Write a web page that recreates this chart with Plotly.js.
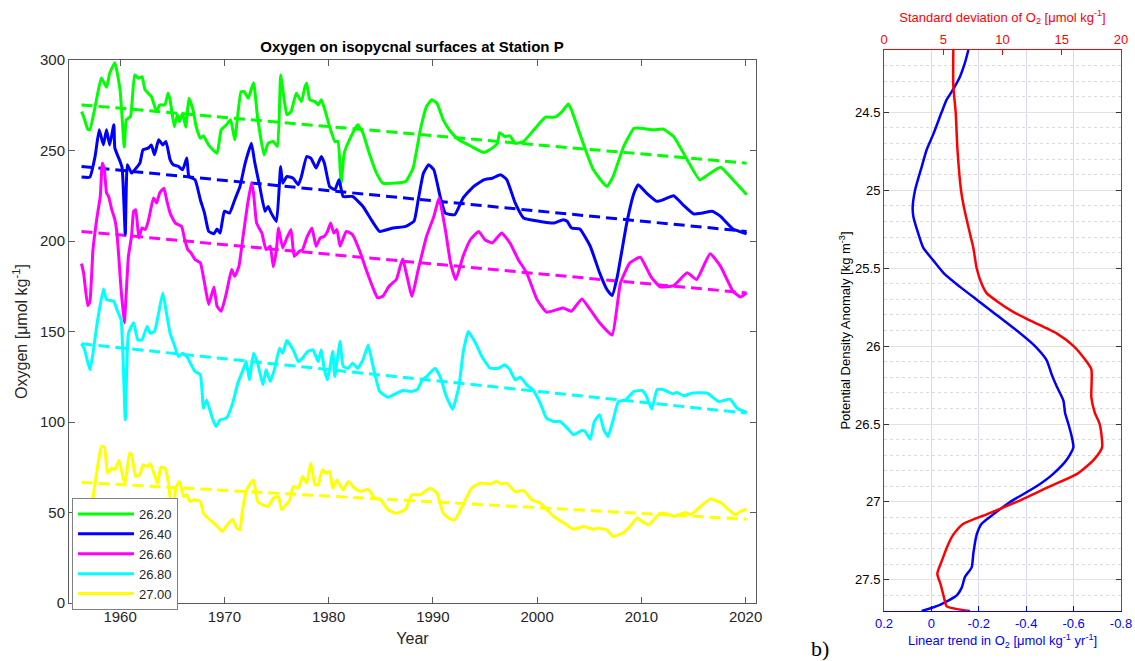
<!DOCTYPE html>
<html>
<head>
<meta charset="utf-8">
<script src="https://cdn.plot.ly/plotly-3.0.1.min.js"></script>
<style>
  html, body { margin: 0; padding: 0; background: #fff; }
  #chart { width: 1135px; height: 661px; }
</style>
</head>
<body>
<div id="chart"></div>
<script>
"use strict";

// --- Panel a: oxygen on isopycnal surfaces ---
const surfaceNames = ['26.20', '26.40', '26.60', '26.80', '27.00'];
const surfaceColors = ['#00ff00', '#0000ff', '#ff00ff', '#00ffff', '#ffff00'];

const yearsG = [1956.3,1956.5,1956.9,1957.1,1957.6,1958.2,1958.7,1959.0,1959.5,1960.0,
  1960.4,1960.6,1961.0,1961.4,1961.8,1962.1,1962.4,1963.0,1963.5,1963.8,
  1964.3,1964.6,1964.8,1965.2,1965.5,1965.7,1966.0,1966.3,1966.6,1967.0,
  1967.3,1967.7,1968.0,1968.5,1969.3,1969.7,1970.2,1970.6,1971.0,1971.6,
  1971.9,1972.3,1972.8,1973.2,1973.8,1974.2,1974.7,1975.1,1975.4,1975.7,
  1976.0,1976.4,1976.9,1977.4,1977.7,1977.9,1978.2,1978.7,1979.0,1979.3,
  1979.6,1980.1,1980.6,1980.9,1981.2,1981.5,1982.0,1982.8,1983.3,1983.9,
  1984.6,1985.2,1986.5,1987.4,1988.1,1988.8,1989.4,1989.9,1990.4,1991.0,
  1991.7,1992.5,1993.7,1994.9,1995.7,1996.2,1996.4,1996.9,1997.4,1997.9,
  1998.7,1999.7,2000.8,2001.7,2002.4,2003.0,2003.3,2004.3,2005.4,2006.7,
  2007.3,2008.3,2009.3,2010.0,2011.2,2012.1,2013.1,2014.4,2015.6,2016.4,
  2017.6,2018.8,2020.1];
const oxyG = [271.5,268.8,261.8,261.4,274,290,285,292.6,298.5,283.5,
  252,267,268.8,291.7,289.9,290.8,283.5,279.8,271.5,275.2,
  275.2,281.6,278,263.2,269.7,266,270.6,262.9,278.9,272.4,
  263.2,256.8,258,253,248.5,261.4,264.2,267,255.9,282.5,
  282.5,278.9,287.5,267.8,247.6,254,255,252.2,291.7,279.8,
  269.7,271.5,281.6,277,284.4,287.1,278,277,275.2,278,
  273.3,263.2,255,255,232,248.5,255.9,264.2,259.6,248.5,
  237.5,232,232,232.9,240,261.4,274.3,278,276.1,266.9,
  260.5,255.9,252.2,248.9,251.3,254,259.9,257.7,258.1,254,
  255,261.4,268.4,268.4,271.5,275.7,272.4,255.9,239.3,230.1,
  235.7,252.2,262.3,262.3,261.4,261.8,257.7,244.9,233.8,236.6,
  240.8,233.8,225.6];

const yearsB = [1956.3,1957.1,1957.6,1958.0,1958.4,1958.7,1959.0,1959.4,1959.5,1960.0,
  1960.2,1960.5,1960.7,1961.1,1961.4,1961.9,1962.2,1962.7,1963.0,1963.3,
  1963.7,1964.1,1964.4,1964.8,1965.1,1965.6,1966.0,1966.4,1966.6,1967.2,
  1967.7,1968.1,1968.5,1969.0,1969.3,1969.6,1970.0,1970.5,1971.0,1971.5,
  1972.0,1972.6,1972.9,1973.4,1973.9,1974.2,1974.5,1975.0,1975.4,1975.6,
  1976.0,1976.6,1977.1,1977.4,1977.9,1978.3,1978.8,1979.3,1979.6,1980.1,
  1980.6,1981.0,1981.4,1982.3,1983.3,1984.2,1984.9,1986.2,1987.4,1988.2,
  1988.6,1989.1,1989.6,1990.1,1990.7,1991.2,1992.1,1992.9,1993.9,1994.9,
  1995.7,1996.5,1997.1,1997.9,1998.7,2000.3,2001.6,2002.5,2002.9,2003.3,
  2004.1,2005.1,2006.0,2006.7,2007.2,2007.7,2008.6,2009.3,2009.7,2010.5,
  2011.5,2012.1,2013.1,2014.0,2015.0,2015.8,2016.8,2017.6,2018.8,2020.1];
const oxyB = [235.3,235.3,246.7,261.4,253.1,261.4,253.1,264.2,251.3,243.9,
  240.3,203.5,242.1,237.5,239.3,243,250.4,251.3,253.1,247.6,
  255.9,253.1,255,244.9,242.1,241.2,239.3,245.8,235.7,233.8,
  222.8,215.4,205.3,204,206.6,204.4,216.4,215.4,222.8,230.1,
  243,254,243.9,230.1,216.4,219.1,215.4,210.8,241.2,232,
  235.7,234.7,231.1,235.7,246.7,245.8,240.3,246.7,243,230.1,
  228.3,233.8,224.6,224.6,219.1,210.8,205.3,207.2,208.1,211,
  222.8,237.5,242.1,239.3,224.6,215.4,214.5,223.7,230.1,233.8,
  234.7,236.6,233.8,221,212.7,210.8,209.9,211.8,210.8,207.2,
  206.6,197.1,182.4,173.2,169.9,180.5,209.9,226.5,231.1,226.5,
  221.9,222.8,225,220,215,215.4,216.4,213.6,206.6,204];

const yearsM = [1956.3,1956.5,1956.9,1957.1,1957.4,1957.8,1958.1,1958.3,1958.5,1958.7,
  1958.9,1959.2,1959.5,1959.7,1960.1,1960.4,1960.8,1961.1,1961.3,1961.5,
  1961.8,1962.1,1962.4,1962.7,1963.2,1963.5,1963.8,1964.2,1964.5,1964.8,
  1965.3,1965.9,1966.2,1966.5,1966.8,1967.2,1967.7,1968.1,1968.5,1969.0,
  1969.3,1969.7,1970.2,1970.7,1971.0,1971.4,1971.8,1972.2,1972.6,1972.8,
  1973.1,1973.6,1974.0,1974.4,1974.7,1975.0,1975.2,1975.6,1976.0,1976.4,
  1976.7,1977.2,1977.5,1977.9,1978.4,1978.8,1979.2,1979.6,1979.9,1980.2,
  1980.5,1980.8,1981.1,1981.7,1982.3,1983.0,1983.6,1984.2,1984.7,1985.2,
  1985.8,1986.5,1987.1,1988.0,1988.6,1989.4,1990.1,1990.6,1991.2,1991.7,
  1992.2,1992.9,1993.6,1994.4,1995.0,1995.7,1996.6,1997.4,1998.2,1999.0,
  2000.0,2000.9,2001.9,2002.5,2003.3,2004.3,2005.1,2006.0,2007.2,2008.0,
  2008.9,2009.9,2010.9,2011.8,2013.1,2014.4,2015.3,2016.6,2017.6,2018.8,
  2019.5,2020.1];
const oxyM = [187.5,182.4,164.3,166.2,195.2,213.6,224.6,243,239.3,226.5,
  224.6,217.3,211.8,204.4,173.2,154.8,191.5,202.6,216.4,217.3,
  201.7,207.2,206.3,210.8,223.7,221,226.5,229.2,221.9,215.4,
  209.9,208.1,200.7,195.2,193.4,189.7,187.9,176.8,164.9,174.6,
  164,161.2,171.3,184.2,180.5,186,202.6,219.1,232,226.5,
  209.9,204.4,195.2,197.1,185.7,195.2,207.2,196.1,201.7,206.3,
  191.5,194.3,195.2,201.7,207.2,197.1,201.7,202.6,205.3,209.9,
  204.4,206.3,197.1,205.3,203.5,194.3,184.2,175,168.6,169.5,
  175,178.7,190,169.5,184.2,202.6,213.6,223.7,206.3,187.9,
  178.7,191.5,200.7,205.3,200.7,198.9,204.4,198.9,189.7,182.4,
  167.6,160.7,162.1,163,161.2,168,162.1,154.8,148,176.8,
  187.9,191,180.5,174.6,175.4,182.4,178.7,193,186,172.2,
  169.1,171.3];

const yearsC = [1956.3,1956.6,1957.1,1957.4,1957.8,1958.4,1958.7,1959.4,1959.7,1960.1,
  1960.5,1960.8,1961.3,1961.7,1962.1,1962.6,1962.9,1963.3,1963.7,1964.1,
  1964.5,1964.8,1965.2,1965.6,1966.0,1966.4,1966.9,1967.2,1967.7,1968.0,
  1968.3,1968.8,1969.2,1969.6,1970.2,1970.8,1971.3,1971.8,1972.1,1972.4,
  1972.8,1973.2,1973.7,1974.0,1974.4,1974.8,1975.3,1975.6,1976.0,1976.6,
  1977.1,1977.5,1978.0,1978.5,1979.0,1979.3,1979.6,1979.9,1980.4,1980.6,
  1981.1,1981.4,1981.9,1982.3,1982.8,1983.3,1983.8,1984.2,1984.9,1985.7,
  1987.1,1987.9,1988.5,1989.0,1989.4,1990.2,1990.7,1991.3,1991.9,1992.5,
  1992.9,1993.4,1994.1,1994.7,1995.5,1996.3,1996.9,1997.4,1997.9,1998.4,
  1999.0,1999.6,2000.3,2000.9,2001.6,2002.2,2002.9,2003.5,2004.3,2004.6,
  2005.1,2005.5,2006.0,2006.4,2006.8,2007.3,2007.8,2008.5,2009.3,2010.1,
  2010.5,2011.0,2011.5,2012.0,2013.0,2013.4,2014.1,2014.9,2016.3,2017.4,
  2018.5,2019.2,2020.1];
const oxyC = [143.2,139.9,128.8,138,154.6,173.5,167.6,166.7,162,156.4,
  101.2,149,154.8,145.4,145.4,152.8,149,150,160.3,171.3,
  158.5,149,142.6,136.2,138,136.2,130.7,127.9,126.1,107.6,
  112.2,103,97.5,101.2,102.1,110.4,121.5,128.8,133.4,123.3,
  138,132.5,120.5,128.8,122.4,128.8,140.8,138,145,139.9,
  133.4,135.3,138.9,139.9,133.4,139.9,128.8,123.3,138.9,125.1,
  144.5,130.7,129.7,132.5,129.7,134.3,142.6,132.5,116.9,113.7,
  117.4,116.9,117.8,123.3,125.1,129.7,125.1,114.1,107.1,119.6,
  138,150,143.6,136.2,129.7,129.7,131.6,128.8,123.3,124.8,
  120.5,117.8,110.4,102.1,100.3,100.3,96.6,92.9,95.3,94.8,
  90.5,100.3,104,95.7,92,101.2,111.3,112.2,116.9,117.4,
  114.1,107.1,117.8,118.1,115.6,116.3,114.5,116,116,111.3,
  112.6,107.6,105.2];

const yearsY = [1956.3,1956.8,1957.3,1957.6,1957.9,1958.2,1958.5,1958.8,1959.2,1959.5,
  1959.9,1960.3,1960.5,1960.9,1961.1,1961.5,1961.9,1962.2,1962.6,1962.9,
  1963.3,1963.6,1963.9,1964.3,1964.6,1965.0,1965.4,1965.7,1966.1,1966.4,
  1966.7,1967.1,1967.7,1968.0,1968.6,1969.2,1969.8,1970.2,1970.8,1971.2,
  1971.5,1971.7,1972.1,1972.4,1972.8,1973.2,1973.7,1974.2,1974.7,1975.2,
  1975.5,1975.9,1976.3,1976.6,1977.1,1977.5,1977.9,1978.3,1978.7,1979.0,
  1979.4,1979.8,1980.1,1980.4,1980.8,1981.4,1981.9,1982.5,1983.1,1983.8,
  1984.4,1985.0,1985.7,1986.5,1987.4,1988.0,1988.8,1989.7,1990.4,1991.0,
  1991.7,1992.1,1992.9,1993.7,1994.5,1995.5,1996.1,1996.6,1997.1,1997.9,
  1998.7,1999.5,2000.3,2001.6,2002.7,2003.5,2004.5,2005.3,2005.9,2006.7,
  2007.3,2008.3,2008.9,2009.6,2010.1,2010.7,2011.8,2012.4,2013.2,2014.2,
  2014.7,2015.5,2016.6,2017.6,2018.4,2019.0,2019.5,2020.1];
const oxyY = [44,46,54.2,66.2,77.3,86.5,86.1,71.7,74.5,73.6,
  78.7,69,66.2,82.8,81.9,69.9,70.8,76.3,75.4,76.9,
  70.8,66.2,75,74.5,68,50,64.4,67.1,58.8,59.8,
  56.1,57,56.1,49.6,46,43.2,39.5,42.6,46.3,41.3,
  40.4,49.6,61.6,65.3,68,56.1,54.2,53.3,57.9,58.8,
  51.5,54.2,57,64.4,63.4,69.9,66.2,77.3,65.3,65.3,
  73.6,71.7,72.7,63.4,68,62.5,67.1,63.4,61.6,62.9,
  57.9,57,51.5,49.6,51.8,59.8,59.8,63.4,60.7,49.6,
  46.3,46,54.2,63.4,66.2,65.8,67.1,65.8,66.2,61.6,
  62.2,57,55.2,47.8,43.7,40.8,42.3,40.8,41.3,40.4,
  36.7,39,42.3,46.9,45,43.2,49.6,49.3,47.8,50,
  48.7,52.4,57.4,55.5,51.5,48.7,50.6,51.8];

// linear trend lines: [start, end] for each surface
const trendYears = [1956.3, 2020.1];
const trendG = [275.2, 243.0];
const trendB = [241.2, 205.3];
const trendM = [205.3, 171.3];
const trendC = [143.2, 104.9];
const trendY = [66.6, 46.3];

// --- Panel b: profiles versus potential density anomaly ---
const sigmaStd = [24.1,24.33,24.5,24.74,25.0,25.11,25.28,25.37,25.5,25.6,25.66,25.71,25.78,25.835,
  25.92,26.0,26.09,26.15,26.33,26.43,26.5,26.65,26.73,26.82,26.9,27.0,27.08,27.14,27.21,
  27.27,27.38,27.46,27.53,27.64,27.67,27.7];
const stdO2 = [5.85,5.85,6.05,6.2,6.5,6.75,7.26,7.54,7.82,8.24,8.66,9.5,10.9,12.3,
  14.6,16,17,17.5,17.5,17.8,18.2,18.4,17.7,16.3,14,11.2,8.66,6.7,5.85,
  5.43,4.87,4.5,4.78,5.15,5.29,7.26];

const sigmaTrend = [24.1,24.18,24.27,24.35,24.42,24.5,24.64,24.74,24.85,25.0,25.11,25.17,25.28,25.37,
  25.45,25.54,25.62,25.71,25.8,25.9,26.0,26.09,26.18,26.26,26.35,26.43,26.5,26.58,26.65,
  26.73,26.82,26.9,27.0,27.08,27.14,27.21,27.33,27.42,27.48,27.55,27.6,27.66,27.7];
const trendO2 = [-0.156,-0.142,-0.121,-0.093,-0.064,-0.043,-0.008,0.02,0.041,0.069,0.079,0.076,0.055,0.034,
  -0.008,-0.057,-0.121,-0.198,-0.275,-0.36,-0.437,-0.486,-0.507,-0.529,-0.557,-0.564,-0.578,-0.592,-0.599,
  -0.571,-0.514,-0.444,-0.332,-0.261,-0.212,-0.191,-0.177,-0.17,-0.142,-0.128,-0.107,-0.036,0.041];

const trendTickVals = [0.2, 0, -0.2, -0.4, -0.6, -0.8];
const trendTickText = ['0.2', '0', '-0.2', '-0.4', '-0.6', '-0.8'];
const sigmaTickVals = [24.5, 25, 25.5, 26, 26.5, 27, 27.5];

const seriesX = [yearsG, yearsB, yearsM, yearsC, yearsY];
const seriesY = [oxyG, oxyB, oxyM, oxyC, oxyY];
const trendsY = [trendG, trendB, trendM, trendC, trendY];

const FONT = 'Liberation Sans, Arial, sans-serif';
const axisGray = '#5a5a5a';
const textDark = '#262626';

const traces = [];

// dashed trend lines first so the data sit on top
trendsY.forEach((tr, i) => {
    traces.push({
        x: trendYears, y: tr, type: 'scatter', mode: 'lines',
        xaxis: 'x', yaxis: 'y', showlegend: false, hoverinfo: 'skip',
        line: { color: surfaceColors[i], width: 3, dash: '11px,6px' }
    });
});

seriesX.forEach((xs, i) => {
    traces.push({
        x: xs, y: seriesY[i], type: 'scatter', mode: 'lines',
        xaxis: 'x', yaxis: 'y', name: surfaceNames[i],
        line: { color: surfaceColors[i], width: 3, shape: 'spline', smoothing: 0.4 }
    });
});

traces.push({
    x: trendO2, y: sigmaTrend, type: 'scatter', mode: 'lines',
    xaxis: 'x2', yaxis: 'y2', showlegend: false,
    line: { color: '#0000ff', width: 2.5, shape: 'spline', smoothing: 0.6 }
});
traces.push({
    x: stdO2, y: sigmaStd, type: 'scatter', mode: 'lines',
    xaxis: 'x3', yaxis: 'y2', showlegend: false,
    line: { color: '#ff0000', width: 2.5, shape: 'spline', smoothing: 0.6 }
});

const layout = {
    width: 1135,
    height: 661,
    margin: { l: 0, r: 0, t: 0, b: 0 },
    paper_bgcolor: '#ffffff',
    plot_bgcolor: 'rgba(0,0,0,0)',
    font: { family: FONT, color: textDark },
    showlegend: true,
    title: {
        text: '<b>Oxygen on isopycnal surfaces at Station P</b>',
        x: 412 / 1135, xanchor: 'center', xref: 'paper',
        y: 1 - 47 / 661, yanchor: 'middle', yref: 'paper',
        font: { size: 15, color: '#000000', family: FONT }
    },
    legend: {
        x: 72 / 1135, xanchor: 'left',
        y: 1 - 498 / 661, yanchor: 'top',
        bgcolor: '#ffffff', bordercolor: '#808080', borderwidth: 1,
        font: { size: 13, color: textDark, family: FONT },
        tracegroupgap: 0, itemwidth: 56
    },
    xaxis: {
        domain: [69 / 1135, 756 / 1135], anchor: 'y',
        range: [1955.1, 2021], tickvals: [1960, 1970, 1980, 1990, 2000, 2010, 2020],
        ticks: 'inside', ticklen: 6, tickcolor: axisGray,
        showline: true, linecolor: axisGray, linewidth: 1, mirror: 'ticks',
        showgrid: false, zeroline: false,
        tickfont: { size: 15, color: textDark },
        title: { text: 'Year', font: { size: 16, color: textDark }, standoff: 8 }
    },
    yaxis: {
        domain: [58 / 661, 601 / 661], anchor: 'x',
        range: [0, 300], dtick: 50,
        ticks: 'inside', ticklen: 6, tickcolor: axisGray,
        showline: true, linecolor: axisGray, linewidth: 1, mirror: 'ticks',
        showgrid: false, zeroline: false,
        tickfont: { size: 15, color: textDark },
        title: { text: 'Oxygen [\u03bcmol kg<sup>-1</sup>]', font: { size: 16, color: textDark }, standoff: 8 }
    },
    xaxis2: {
        domain: [884 / 1135, 1121 / 1135], anchor: 'y2',
        range: [0.2, -0.8], tickvals: trendTickVals, ticktext: trendTickText,
        ticks: 'inside', ticklen: 5, tickcolor: '#0000ff',
        showline: true, linecolor: '#0000ff', linewidth: 1,
        showgrid: true, gridcolor: '#d8d8ff', gridwidth: 1, zeroline: false,
        tickfont: { size: 13, color: '#0000ff' },
        title: { text: 'Linear trend in O<sub>2</sub> [\u03bcmol kg<sup>-1</sup> yr<sup>-1</sup>]', font: { size: 13, color: '#0000ff' }, standoff: 6 }
    },
    xaxis3: {
        overlaying: 'x2', side: 'top', anchor: 'y2',
        range: [0, 20], dtick: 5,
        ticks: 'inside', ticklen: 5, tickcolor: '#ff0000',
        showline: true, linecolor: '#ff0000', linewidth: 1,
        showgrid: false, zeroline: false,
        tickfont: { size: 13, color: '#ff0000' },
        title: { text: 'Standard deviation of O<sub>2</sub> [\u03bcmol kg<sup>-1</sup>]', font: { size: 13, color: '#ff0000' }, standoff: 6 }
    },
    yaxis2: {
        domain: [1 - 611 / 661, 1 - 50 / 661],
        anchor: 'x2',
        range: [27.7, 24.1], tickvals: sigmaTickVals,
        ticks: 'inside', ticklen: 5, tickcolor: '#333333',
        showline: true, linecolor: '#555555', linewidth: 1, mirror: 'ticks',
        showgrid: true, gridcolor: '#e2e2e2', gridwidth: 1, zeroline: false,
        minor: { dtick: 0.1, showgrid: true, gridcolor: '#dadada', griddash: 'dot', gridwidth: 1 },
        tickfont: { size: 13, color: '#000000' },
        title: { text: 'Potential Density Anomaly [kg m<sup>-3</sup>]', font: { size: 13, color: '#000000' }, standoff: 1 }
    },
    annotations: [{
        text: 'b)', xref: 'paper', yref: 'paper',
        x: 820 / 1135, y: 1 - 648 / 661, xanchor: 'center', yanchor: 'middle',
        showarrow: false, font: { family: 'Liberation Serif, Times New Roman, serif', size: 22, color: '#000000' }
    }]
};

Plotly.newPlot('chart', traces, layout, { displayModeBar: false, staticPlot: true });
</script>
</body>
</html>
